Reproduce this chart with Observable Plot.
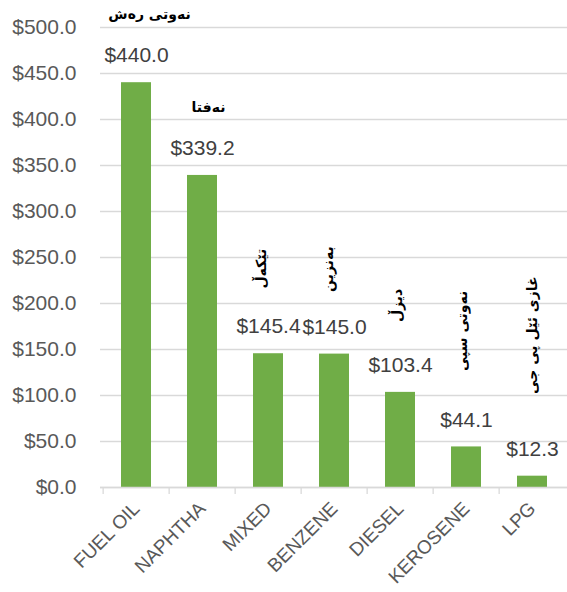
<!DOCTYPE html>
<html><head><meta charset="utf-8">
<script src="https://cdn.jsdelivr.net/npm/d3@7"></script>
<script src="https://cdn.jsdelivr.net/npm/@observablehq/plot@0.6"></script>
<style>body{margin:0;background:#fff}</style>
</head><body><div id="chart"></div>
<script>
const categories = ["FUEL OIL","NAPHTHA","MIXED","BENZENE","DIESEL","KEROSENE","LPG"];
const values = [440.0, 339.2, 145.4, 145.0, 103.4, 44.1, 12.3];
const kurdishLabels = ["نەوتی رەش","نەفتا","تێکەڵ","بەنزین","دیزڵ","نەوتی سپی","غازی ئێل پی جی"];
const yTicks = [0, 50, 100, 150, 200, 250, 300, 350, 400, 450, 500];

const data = categories.map((c, i) => ({category: c, value: values[i], kurdish: kurdishLabels[i]}));

// label layout (pixel offsets relative to the bar top)
const kOff = [
  {dx: 13, dy: -68, rotate: 0},
  {dx: 6, dy: -68, rotate: 0},
  {dx: -7, dy: -85, rotate: -90},
  {dx: -6, dy: -85, rotate: -90},
  {dx: -3, dy: -87, rotate: -90},
  {dx: -4, dy: -116, rotate: -90},
  {dx: 0, dy: -141, rotate: -90}
];

const chart = Plot.plot({
  width: 567,
  height: 592,
  marginLeft: 100,
  marginRight: 0,
  marginTop: 27,
  marginBottom: 105,
  style: {background: "white", color: "#595959", fontFamily: "'Liberation Sans', Arial, sans-serif"},
  x: {domain: categories, paddingInner: 0.55, paddingOuter: 0.275, align: 0.5},
  y: {domain: [0, 500]},
  marks: [
    Plot.gridY(yTicks, {stroke: "#d9d9d9", strokeOpacity: 1, strokeWidth: 1.3}),
    Plot.barY(data, {x: "category", y: "value", fill: "#70AD47"}),
    Plot.ruleY([0], {stroke: "#d9d9d9", strokeWidth: 1.3}),
    Plot.ruleX(data, {x: "category", y1: 0, y2: -7.6, dx: -33.36, stroke: "#d9d9d9", strokeWidth: 1.3}),
    Plot.axisY({ticks: yTicks, tickSize: 0, tickPadding: 24, fontSize: 21, label: null, tickFormat: d => "$" + d.toFixed(1)}),
    Plot.axisX({tickRotate: -45, tickSize: 0, tickPadding: 18, fontSize: 19, label: null}),
    Plot.text(data, {x: "category", y: "value", text: d => "$" + d.value.toFixed(1), dy: -27, fontSize: 21, fill: "#404040"}),
    ...data.map((d, i) => Plot.text([d], {
      x: "category", y: "value", text: "kurdish",
      dx: kOff[i].dx, dy: kOff[i].dy, rotate: kOff[i].rotate,
      fontSize: 14, fontWeight: "bold", fill: "black",
      fontFamily: "'DejaVu Sans', sans-serif"
    }))
  ]
});
document.getElementById("chart").appendChild(chart);
</script>
</body></html>
